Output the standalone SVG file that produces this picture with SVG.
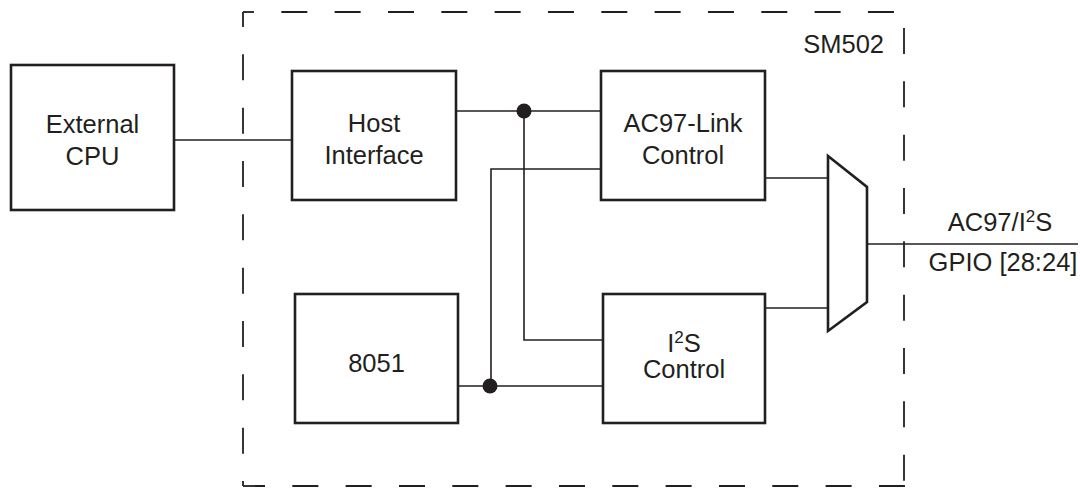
<svg xmlns="http://www.w3.org/2000/svg" width="1080" height="489" viewBox="0 0 1080 489">
<style>
.box{fill:#fff;stroke:#231f20;stroke-width:2.6}
.wire{fill:none;stroke:#231f20;stroke-width:1.6}
.dash{fill:none;stroke:#231f20;stroke-width:1.8;stroke-dasharray:26 27.33}
.t{font-family:"Liberation Sans",Arial,sans-serif;font-size:25.5px;fill:#231f20;text-anchor:middle}
.sup{font-size:17px}
.dot{fill:#231f20}
</style>
<rect width="1080" height="489" fill="#fff"/>
<g id="sm502-boundary">
<line class="dash" x1="243" y1="12" x2="904" y2="12" stroke-dashoffset="15"/>
<line class="dash" x1="243" y1="12" x2="243" y2="486" stroke-dashoffset="11"/>
<line class="dash" x1="243" y1="486" x2="905" y2="486" stroke-dashoffset="4"/>
<line class="dash" x1="904" y1="28" x2="904" y2="486"/>
<text class="t" x="884" y="53" style="text-anchor:end">SM502</text>
</g>
<g id="connectors">
<line class="wire" x1="174" y1="140" x2="292" y2="140"/>
<line class="wire" x1="456" y1="111" x2="601" y2="111"/>
<polyline class="wire" points="524,111 524,340 603,340"/>
<polyline class="wire" points="601,169 491,169 491,386"/>
<line class="wire" x1="458" y1="386" x2="603" y2="386"/>
<line class="wire" x1="765" y1="178" x2="828" y2="178"/>
<line class="wire" x1="765" y1="308" x2="828" y2="308"/>
<line class="wire" x1="867" y1="244" x2="1078" y2="244"/>
<circle class="dot" cx="524" cy="111" r="7.5"/>
<circle class="dot" cx="490" cy="386" r="7.5"/>
<text class="t" x="1000" y="231">AC97/I<tspan class="sup" dy="-9">2</tspan><tspan dy="9">S</tspan></text>
<text class="t" x="1003" y="271">GPIO [28:24]</text>
</g>
<g id="external-cpu">
<rect class="box" x="11" y="65" width="163" height="145"/>
<text class="t" x="92.5" y="133">External</text>
<text class="t" x="92.5" y="165">CPU</text>
</g>
<g id="host-interface">
<rect class="box" x="292" y="71" width="164" height="129"/>
<text class="t" x="374" y="132">Host</text>
<text class="t" x="374" y="164">Interface</text>
</g>
<g id="ac97-link-control">
<rect class="box" x="601" y="71" width="164" height="129"/>
<text class="t" x="683" y="132">AC97-Link</text>
<text class="t" x="683" y="164">Control</text>
</g>
<g id="i8051">
<rect class="box" x="295" y="294" width="163" height="129"/>
<text class="t" x="376.5" y="372">8051</text>
</g>
<g id="i2s-control">
<rect class="box" x="603" y="294" width="162" height="129"/>
<text class="t" x="684" y="352">I<tspan class="sup" dy="-9">2</tspan><tspan dy="9">S</tspan></text>
<text class="t" x="684" y="378">Control</text>
</g>
<g id="mux">
<polygon class="box" points="828,156 867,187 867,302 828,331"/>
</g>
</svg>
